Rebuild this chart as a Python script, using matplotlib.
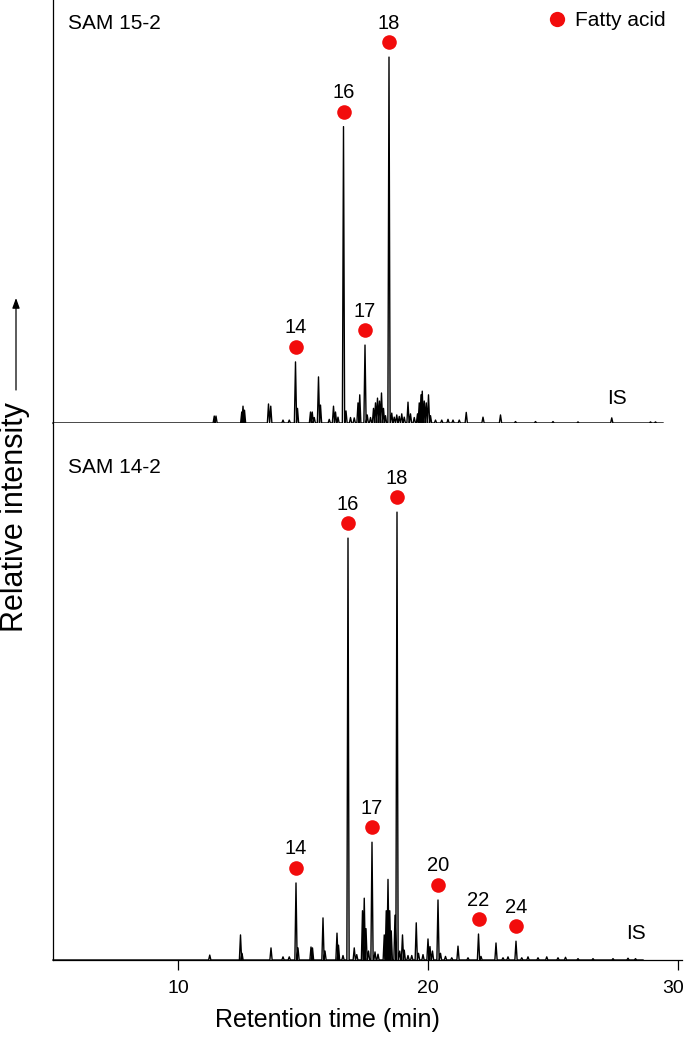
import numpy as np
import matplotlib.pyplot as plt
from matplotlib.lines import Line2D
from matplotlib.transforms import offset_copy, ScaledTranslation

plt.rcParams["font.family"] = ["Liberation Sans", "DejaVu Sans"]

# SAM 15-2 (top): fatty acid peaks, retention time (min) and relative height (%)
top_fa_times = [14.70, 16.62, 17.48, 18.44]
top_fa_heights = [16.7, 81.0, 21.3, 100.0]
top_fa_labels = ["14", "16", "17", "18"]

# other peaks in the SAM 15-2 trace
top_times = [11.45, 11.52, 12.55, 12.60, 12.66, 13.62, 13.71, 14.20, 14.45, 14.78,
             15.30, 15.37, 15.45, 15.62, 15.70, 16.05, 16.22, 16.30, 16.40, 16.72,
             16.90, 17.05, 17.20, 17.27, 17.57, 17.70, 17.82, 17.90, 17.98, 18.06,
             18.14, 18.22, 18.30, 18.55, 18.65, 18.75, 18.85, 18.95, 19.05, 19.20,
             19.30, 19.45, 19.58, 19.65, 19.72, 19.77, 19.85, 19.93, 20.02, 20.10,
             20.30, 20.55, 20.80, 21.00, 21.25, 21.53, 22.20, 22.90, 23.50, 24.30,
             25.00, 26.00, 27.35, 28.90, 29.10]
top_heights = [1.9, 1.9, 3.0, 4.6, 3.5, 5.2, 4.6, 0.8, 0.8, 4.0,
               3.0, 3.0, 1.5, 12.6, 4.9, 1.0, 4.6, 3.0, 1.6, 3.3,
               1.5, 1.4, 5.5, 7.7, 2.2, 1.5, 4.0, 5.5, 6.8, 6.0,
               8.2, 4.0, 2.0, 2.7, 1.6, 2.2, 1.8, 2.5, 1.6, 5.7,
               2.5, 1.5, 2.5, 5.5, 7.7, 8.7, 6.0, 5.5, 7.7, 2.0,
               0.8, 0.8, 1.0, 0.8, 0.8, 2.9, 1.6, 2.2, 0.4, 0.4,
               0.4, 0.3, 1.4, 0.3, 0.3]
top_end = 29.4

# SAM 14-2 (bottom)
bot_fa_times = [14.72, 16.80, 17.76, 18.76, 20.40, 22.02, 23.52]
bot_fa_heights = [17.2, 94.2, 26.3, 100.0, 13.4, 5.8, 4.2]
bot_fa_labels = ["14", "16", "17", "18", "20", "22", "24"]

bot_times = [11.27, 12.50, 12.56, 13.72, 14.20, 14.45, 14.80, 15.32, 15.38, 15.80,
             15.88, 16.36, 16.42, 16.60, 17.05, 17.15, 17.38, 17.45, 17.52, 17.62,
             17.88, 18.00, 18.25, 18.33, 18.40, 18.47, 18.53, 18.68, 18.87, 18.98,
             19.05, 19.20, 19.35, 19.53, 19.62, 19.80, 20.00, 20.08, 20.18, 20.50,
             20.70, 20.95, 21.20, 21.60, 22.12, 22.72, 23.00, 23.20, 23.75, 24.00,
             24.40, 24.75, 25.20, 25.50, 26.00, 26.60, 27.40, 28.00, 28.30]
bot_heights = [1.1, 5.6, 1.5, 2.7, 0.7, 0.7, 2.7, 2.9, 2.7, 9.4,
               2.0, 6.0, 3.3, 1.0, 2.7, 1.2, 11.0, 13.8, 7.0, 2.0,
               1.8, 1.3, 5.6, 11.0, 18.0, 11.0, 6.5, 10.0, 2.0, 5.6,
               2.2, 1.0, 1.0, 8.3, 1.5, 1.2, 4.7, 3.0, 2.0, 1.5,
               0.8, 0.5, 3.1, 0.5, 0.8, 3.8, 0.5, 0.7, 0.5, 0.7,
               0.5, 0.7, 0.5, 0.6, 0.3, 0.3, 0.3, 0.4, 0.3]
bot_end = 28.6

is_label_pos = {"top": (27.55, 6.8), "bot": (28.3, 6.0)}

RED = "#f20c0c"
HALF_W = 0.045  # half width of a spike, minutes


def trace(times, heights, start, end):
    # turn a list of peaks into a spiky chromatogram polyline
    order = np.argsort(times)
    xs, ys = [start], [0.0]
    for i in order:
        t, h = times[i], heights[i]
        xs += [t - HALF_W, t, t + HALF_W]
        ys += [0.0, h, 0.0]
    xs.append(end)
    ys.append(0.0)
    return np.array(xs), np.array(ys)


def draw_panel(ax, fa_t, fa_h, fa_lab, t, h, end, name, is_pos):
    xs, ys = trace(list(fa_t) + list(t), list(fa_h) + list(h), 5.0, end)
    ax.plot(xs, ys, color="black", lw=1.0, clip_on=False)

    fig = ax.figure
    dot_tr = offset_copy(ax.transData, fig=fig, y=15, units="dots")
    lab_tr = offset_copy(ax.transData, fig=fig, y=34, units="dots")
    ax.plot(fa_t, fa_h, "o", color=RED, ms=10.5, mec="none", transform=dot_tr)
    for x, y, s in zip(fa_t, fa_h, fa_lab):
        ax.text(x, y, s, transform=lab_tr, ha="center", va="center", fontsize=14.5)

    ax.text(is_pos[0], is_pos[1], "IS", ha="center", va="center", fontsize=15)
    ax.text(0.024, 0.0, name, transform=ax.transAxes, ha="left", va="center", fontsize=15)

    ax.set_xlim(5, 30.16)
    for s in ["top", "right"]:
        ax.spines[s].set_visible(False)
    ax.spines["left"].set_linewidth(0.9)
    ax.spines["bottom"].set_linewidth(0.9)
    ax.set_yticks([])


fig = plt.figure(figsize=(6.85, 10.38), dpi=100)
W, H = 685.0, 1038.0
ax_top = fig.add_axes([53 / W, 1 - 423 / H, 629 / W, 423 / H])
ax_bot = fig.add_axes([53 / W, 1 - 960 / H, 629 / W, 537 / H])

draw_panel(ax_top, top_fa_times, top_fa_heights, top_fa_labels,
           top_times, top_heights, top_end, "SAM 15-2", is_label_pos["top"])
draw_panel(ax_bot, bot_fa_times, bot_fa_heights, bot_fa_labels,
           bot_times, bot_heights, bot_end, "SAM 14-2", is_label_pos["bot"])

ax_top.set_ylim(0, 115.6)
ax_top.spines["bottom"].set_visible(False)
ax_top.set_xticks([])
ax_top.texts[-1].set_y(1 - 23.5 / 423)

ax_bot.set_ylim(0, 119.9)
ax_bot.texts[-1].set_y(1 - 45 / 537)
ax_bot.set_xticks([10, 20, 30])
ax_bot.tick_params(axis="x", direction="out", length=7.5, width=0.9, pad=7, labelsize=14)
# the last label sits at the right edge of the picture
last = ax_bot.get_xticklabels()[-1]
last.set_transform(last.get_transform() + ScaledTranslation(-5 / 100, 0, fig.dpi_scale_trans))
ax_bot.set_xlabel("Retention time (min)", fontsize=18)
ax_bot.xaxis.set_label_coords((327.5 - 53) / 629, -(1008 - 960) / 537)

# legend
h = Line2D([], [], marker="o", ls="", color=RED, mec="none", ms=11)
ax_top.legend([h], ["Fatty acid"], loc="center left", bbox_to_anchor=((546.6 - 53) / 629, 1 - 21 / 423),
              frameon=False, fontsize=15, borderpad=0, borderaxespad=0,
              handlelength=1.0, handletextpad=0.37)

# y label with arrow
fig.text(15 / W, 1 - 517 / H, "Relative intensity", rotation=90,
         ha="center", va="center", fontsize=22)
ax_bot.annotate("", xy=(16, H - 298), xycoords="figure pixels",
                xytext=(16, H - 390), textcoords="figure pixels",
                arrowprops=dict(arrowstyle="-|>,head_length=0.6,head_width=0.22",
                                color="black", lw=0.9, shrinkA=0, shrinkB=0))

fig.savefig("out.png", dpi=100)
